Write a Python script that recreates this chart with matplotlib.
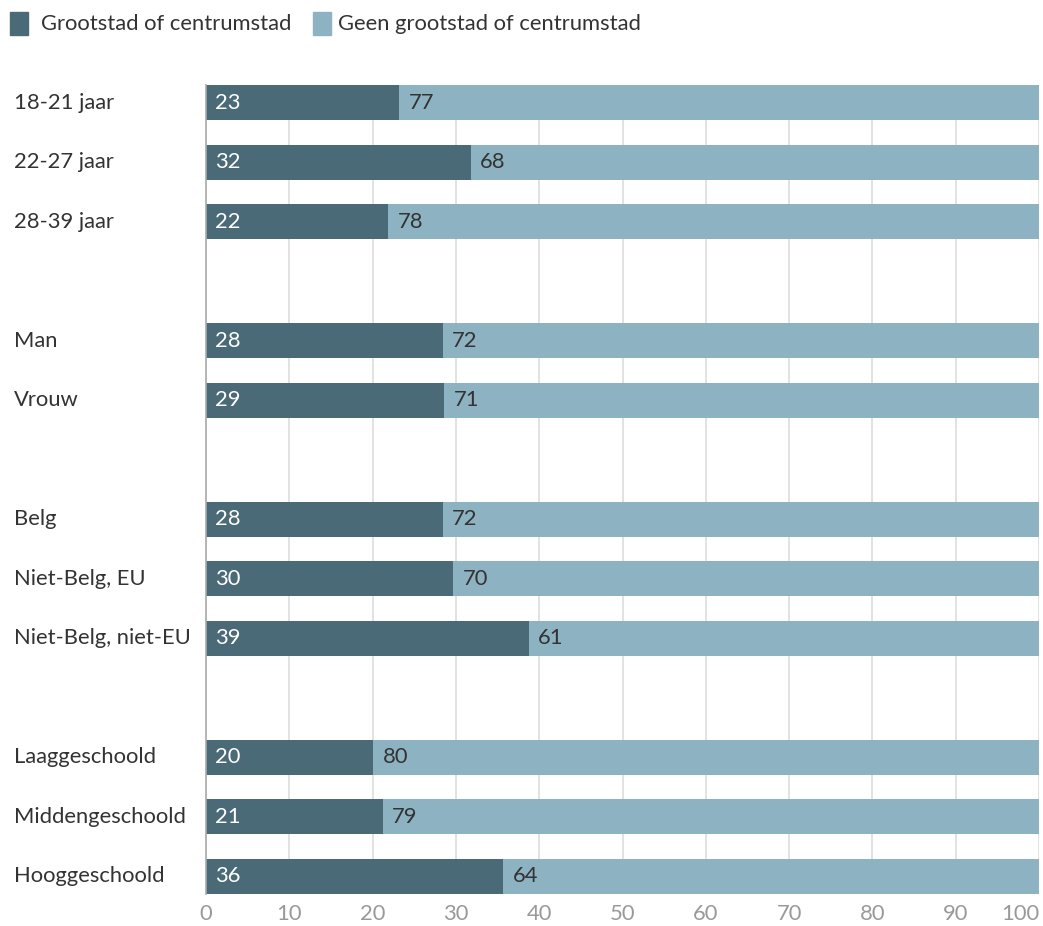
import matplotlib.pyplot as plt
from matplotlib.patches import Rectangle
from matplotlib.transforms import blended_transform_factory

plt.rcParams['font.family'] = ['Lato', 'DejaVu Sans']

# ---------------------------------------------------------------------------
# Data (percentages; labels show rounded values)
# ---------------------------------------------------------------------------
CATEGORIES = [
    "18-21 jaar", "22-27 jaar", "28-39 jaar", None,
    "Man", "Vrouw", None,
    "Belg", "Niet-Belg, EU", "Niet-Belg, niet-EU", None,
    "Laaggeschoold", "Middengeschoold", "Hooggeschoold",
]
GROOTSTAD = [23.2, 31.8, 21.9, None, 28.4, 28.6, None, 28.4, 29.7, 38.8, None, 20.1, 21.2, 35.7]
GEEN_GROOTSTAD = [76.8, 68.2, 78.1, None, 71.6, 71.4, None, 71.6, 70.3, 61.2, None, 79.9, 78.8, 64.3]

SERIES_NAMES = ["Grootstad of centrumstad", "Geen grootstad of centrumstad"]
X_TICKS = [0, 10, 20, 30, 40, 50, 60, 70, 80, 90, 100]

DARK = "#496a76"
LIGHT = "#8db3c3"
TEXT = "#333333"
GRID = "#dddddd"
TICK = "#999999"
FS = 15.8

# ---------------------------------------------------------------------------
W, H = 1043, 926
fig = plt.figure(figsize=(W / 100, H / 100), dpi=100)
ax = fig.add_axes([206 / W, 32 / H, 833 / W, 809 / H])
label_tr = blended_transform_factory(fig.transFigure, ax.transData)

BAR_H = 0.59
for i, (cat, a, b) in enumerate(zip(CATEGORIES, GROOTSTAD, GEEN_GROOTSTAD)):
    if cat is None:
        continue
    ax.barh(i, a, height=BAR_H, color=DARK, zorder=3)
    ax.barh(i, b, left=a, height=BAR_H, color=LIGHT, zorder=3)
    ax.text(1.1, i, f"{round(a)}", color="white", fontsize=FS, va="center", ha="left", zorder=4)
    ax.text(a + 1.1, i, f"{round(b)}", color=TEXT, fontsize=FS, va="center", ha="left", zorder=4)
    ax.text(14 / W, i, cat, transform=label_tr, color=TEXT, fontsize=FS,
            va="center", ha="left", clip_on=False)

ax.set_xlim(0, 100)
ax.set_ylim(len(CATEGORIES) - 1 + BAR_H / 2, -BAR_H / 2)
ax.set_xticks(X_TICKS)
ax.set_xticklabels([str(t) for t in X_TICKS], color=TICK, fontsize=FS)
ax.get_xticklabels()[-1].set_ha("right")
ax.tick_params(axis="x", length=0, pad=7)
ax.set_yticks([])
ax.grid(axis="x", color=GRID, linewidth=1.2, zorder=0)
for s in ["top", "right", "bottom"]:
    ax.spines[s].set_visible(False)
ax.spines["left"].set_color("#aaaaaa")
ax.spines["left"].set_linewidth(1.2)
ax.spines["left"].set_zorder(5)

# Legend
fig.patches.append(Rectangle((10 / W, 1 - 35 / H), 18 / W, 23 / H,
                             transform=fig.transFigure, color=DARK))
fig.text(41 / W, 1 - 24 / H, SERIES_NAMES[0], color=TEXT, fontsize=FS, va="center")
fig.patches.append(Rectangle((313 / W, 1 - 35 / H), 18 / W, 23 / H,
                             transform=fig.transFigure, color=LIGHT))
fig.text(338 / W, 1 - 24 / H, SERIES_NAMES[1], color=TEXT, fontsize=FS, va="center")

fig.savefig("out.png", dpi=100)
